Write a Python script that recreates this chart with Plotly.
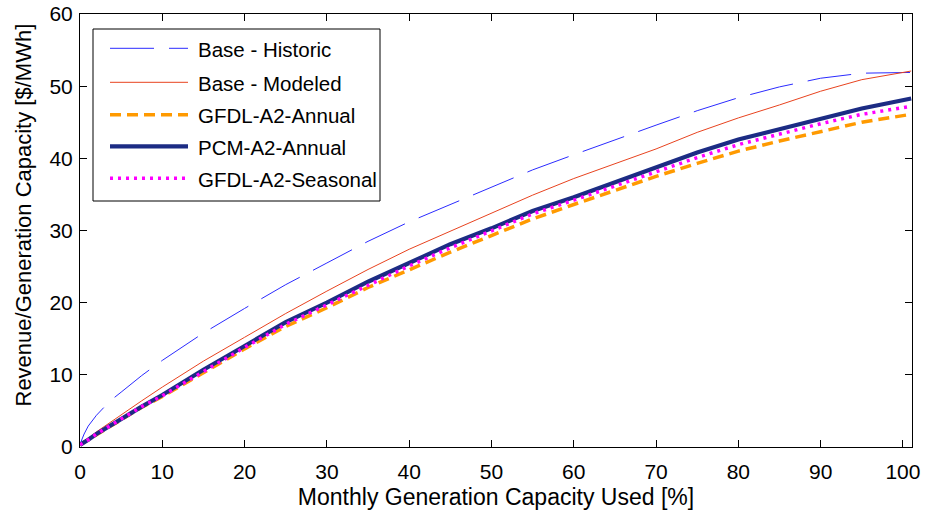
import plotly.graph_objects as go

# ---- data ----
capacity_used = [0, 0.5, 1, 2, 3, 4, 5, 7.5, 10, 15, 20, 25, 30, 35, 40, 45, 50,
                 55, 60, 65, 70, 75, 80, 85, 90, 95, 101]

base_historic = [0.4, 1.8, 2.9, 4.4, 5.6, 6.7, 7.6, 9.9, 12.0, 15.8, 19.2, 22.5, 25.5,
                 28.5, 31.2, 33.6, 36.0, 38.4, 40.5, 42.6, 44.6, 46.6, 48.4, 49.9,
                 51.1, 51.8, 51.9]
base_modeled = [0.3, 0.8, 1.2, 2.1, 2.9, 3.7, 4.5, 6.4, 8.3, 11.9, 15.2, 18.5, 21.6,
                24.6, 27.4, 29.9, 32.3, 34.9, 37.2, 39.3, 41.3, 43.6, 45.6, 47.4,
                49.3, 50.9, 52.1]
gfdl_a2_annual = [0.3, 0.6, 1.0, 1.7, 2.4, 3.1, 3.8, 5.5, 7.0, 10.3, 13.6, 16.7, 19.3,
                  22.1, 24.6, 27.0, 29.3, 31.6, 33.6, 35.6, 37.5, 39.3, 41.0, 42.4,
                  43.7, 45.0, 46.1]
pcm_a2_annual = [0.3, 0.6, 1.0, 1.8, 2.5, 3.2, 3.9, 5.6, 7.2, 10.7, 14.0, 17.3, 20.0,
                 22.9, 25.5, 28.1, 30.3, 32.7, 34.6, 36.7, 38.8, 40.8, 42.6, 44.0,
                 45.4, 46.9, 48.3]
gfdl_a2_seasonal = [0.3, 0.6, 1.0, 1.8, 2.5, 3.2, 3.9, 5.6, 7.1, 10.5, 13.8, 17.0, 19.7,
                    22.5, 25.1, 27.6, 29.9, 32.3, 34.2, 36.2, 38.2, 40.1, 41.9, 43.4,
                    44.8, 46.1, 47.2]

series_names = ["Base - Historic", "Base - Modeled", "GFDL-A2-Annual",
                "PCM-A2-Annual", "GFDL-A2-Seasonal"]
series_values = [base_historic, base_modeled, gfdl_a2_annual, pcm_a2_annual,
                 gfdl_a2_seasonal]

x_ticks = [0, 10, 20, 30, 40, 50, 60, 70, 80, 90, 100]
y_ticks = [0, 10, 20, 30, 40, 50, 60]

x_title = "Monthly Generation Capacity Used [%]"
y_title = "Revenue/Generation Capacity [$/MWh]"

# ---- styles ----
styles = [
    dict(color="#2B2BFF", width=1, dash="44px,15px"),
    dict(color="#E8431F", width=1, dash="solid"),
    dict(color="#FF9A00", width=3.5, dash="11px,6px"),
    dict(color="#1C2C84", width=4.2, dash="solid"),
    dict(color="#FF00FF", width=3.5, dash="3px,5px"),
]

FONT = "Liberation Sans, Arial, sans-serif"

fig = go.Figure()
for name, vals, st in zip(series_names, series_values, styles):
    fig.add_trace(go.Scatter(x=capacity_used, y=vals, mode="lines", name=name,
                             line=st, showlegend=False, hoverinfo="x+y+name"))

# ---- custom legend (MATLAB style) ----
L, R, T, B = 80, 22, 14, 69
W, H = 934 - L - R, 516 - T - B

def px(xp):
    return (xp - L) / W

def py(yp):
    return (516 - B - yp) / H

fig.add_shape(type="rect", xref="paper", yref="paper",
              x0=px(93), x1=px(380), y0=py(201), y1=py(29),
              line=dict(color="black", width=1), fillcolor="white", layer="above")
item_y = [48.3, 82.3, 114.7, 146.3, 178.3]
for name, st, yy in zip(series_names, styles, item_y):
    fig.add_shape(type="line", xref="paper", yref="paper",
                  x0=px(110), x1=px(188), y0=py(yy), y1=py(yy),
                  line=st, layer="above")
    fig.add_annotation(xref="paper", yref="paper", x=px(196), y=py(yy + 1),
                       text=name, showarrow=False, xanchor="left", yanchor="middle",
                       font=dict(family=FONT, size=20.5, color="black"))

# y-axis title (placed like MATLAB's, slightly above centre)
fig.add_annotation(xref="paper", yref="paper", x=px(23), y=py(215.5),
                   text=y_title, textangle=-90, showarrow=False,
                   xanchor="center", yanchor="middle",
                   font=dict(family=FONT, size=22, color="black"))

axis_common = dict(showline=True, linecolor="black", linewidth=1, mirror="ticks",
                   ticks="inside", ticklen=7, tickwidth=1, tickcolor="black",
                   showgrid=False, zeroline=False,
                   tickfont=dict(family=FONT, size=21, color="black"))

fig.update_layout(
    width=934, height=516,
    margin=dict(l=L, r=R, t=T, b=B, autoexpand=False),
    paper_bgcolor="white", plot_bgcolor="white",
    font=dict(family=FONT, color="black"),
    xaxis=dict(range=[0, 101.1], tickvals=x_ticks,
               title=dict(text=x_title,
                          font=dict(family=FONT, size=23, color="black"), standoff=6),
               ticklabelstandoff=6, **axis_common),
    yaxis=dict(range=[0, 60], tickvals=y_ticks, ticklabelstandoff=2, **axis_common),
)

fig.write_html("out.html")
